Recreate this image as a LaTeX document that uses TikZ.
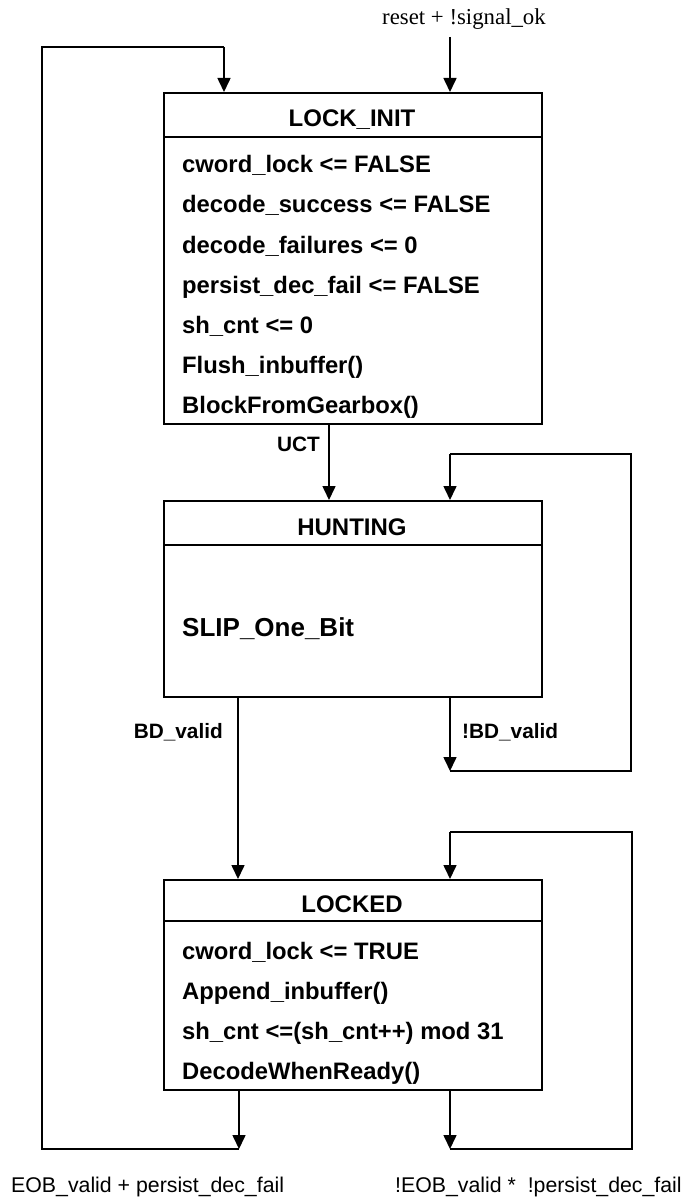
\documentclass[tikz,border=0pt]{standalone}
\usepackage{fontspec}
\setmainfont{Liberation Sans}
\newfontfamily\serifface{Liberation Serif}
\usetikzlibrary{arrows.meta}
\begin{document}
\begin{tikzpicture}[x=1pt,y=-1pt,
  statebox/.style={draw, line width=1.8pt, inner sep=0pt, anchor=north west, minimum width=378pt},
  divline/.style={line width=1.8pt},
  titletext/.style={inner sep=0pt, anchor=base, font=\bfseries\fontsize{24}{24}\selectfont},
  rowtext/.style={inner sep=0pt, anchor=base west, font=\bfseries\fontsize{23.8}{24}\selectfont},
  bigrow/.style={inner sep=0pt, anchor=base west, font=\bfseries\fontsize{26}{26}\selectfont},
  lbl/.style={inner sep=0pt, font=\bfseries\fontsize{20.8}{21}\selectfont},
  condlbl/.style={inner sep=0pt, anchor=base west, font=\fontsize{21.3}{22}\selectfont},
  conn/.style={line width=1.6pt},
  arr/.style={conn, -{Triangle[width=13pt,length=14pt]}}]
\useasboundingbox (0,0) rectangle (687,1198);

% ---- LOCK_INIT ----
\node[statebox, minimum height=331pt] (lockinit) at (163,92) {};
\draw[divline] (163,137) -- (541,137);
\node[titletext] (lockinitT) at (352,126.7) {LOCK\_INIT};
\node[rowtext] (li1) at (182,173) {cword\_lock <= FALSE};
\node[rowtext] (li2) at (182,213) {decode\_success <= FALSE};
\node[rowtext] (li3) at (182,253) {decode\_failures <= 0};
\node[rowtext] (li4) at (182,293) {persist\_dec\_fail <= FALSE};
\node[rowtext] (li5) at (182,333) {sh\_cnt <= 0};
\node[rowtext] (li6) at (182,373) {Flush\_inbuffer()};
\node[rowtext] (li7) at (182,413) {BlockFromGearbox()};

% ---- HUNTING ----
\node[statebox, minimum height=196pt] (hunting) at (163,500) {};
\draw[divline] (163,545) -- (541,545);
\node[titletext] (huntingT) at (352,535.7) {HUNTING};
\node[bigrow] (hu1) at (182,636.7) {SLIP\_One\_Bit};

% ---- LOCKED ----
\node[statebox, minimum height=210pt] (locked) at (163,879) {};
\draw[divline] (163,921) -- (541,921);
\node[titletext] (lockedT) at (352,912.7) {LOCKED};
\node[rowtext] (lo1) at (182,959) {cword\_lock <= TRUE};
\node[rowtext] (lo2) at (182,999) {Append\_inbuffer()};
\node[rowtext] (lo3) at (182,1039) {sh\_cnt <=(sh\_cnt++) mod 31};
\node[rowtext] (lo4) at (182,1079) {DecodeWhenReady()};

% ---- reset entry ----
\node[inner sep=0pt, anchor=base, font=\serifface\fontsize{22.8}{23}\selectfont] (resetlbl) at (464,24.5) {reset + !signal\_ok};
\coordinate (rs) at (450,37);
\draw[arr] (rs) -- (rs |- lockinit.north);

% ---- UCT ----
\coordinate (uctA) at (329,0);
\draw[arr] (uctA |- lockinit.south) -- (uctA |- hunting.north);
\node[lbl, anchor=base east] (uctL) at (320,451) {UCT};

% ---- HUNTING self loop ----
\coordinate (hs) at (450,0);
\coordinate (hc1) at (450,771);
\coordinate (hc2) at (631,771);
\coordinate (hc3) at (631,454);
\coordinate (hc4) at (450,454);
\draw[arr] (hs |- hunting.south) -- (hc1);
\draw[conn] (hc1) -- (hc2) -- (hc3) -- (hc4);
\draw[arr] (hc4) -- (hc4 |- hunting.north);
\node[lbl, anchor=base west] (nbdL) at (462,738) {!BD\_valid};

% ---- BD_valid ----
\coordinate (bd) at (238,0);
\draw[arr] (bd |- hunting.south) -- (bd |- locked.north);
\node[lbl, anchor=base east] (bdL) at (223,738) {BD\_valid};

% ---- LOCKED -> LOCK_INIT loop ----
\coordinate (ls) at (239,0);
\coordinate (lc1) at (239,1149);
\coordinate (lc2) at (42,1149);
\coordinate (lc3) at (42,47);
\coordinate (lc4) at (224,47);
\draw[arr] (ls |- locked.south) -- (lc1);
\draw[conn] (lc1) -- (lc2) -- (lc3) -- (lc4);
\draw[arr] (lc4) -- (lc4 |- lockinit.north);

% ---- LOCKED self loop ----
\coordinate (ks) at (450,0);
\coordinate (kc1) at (450,1149);
\coordinate (kc2) at (632,1149);
\coordinate (kc3) at (632,832);
\coordinate (kc4) at (450,832);
\draw[arr] (ks |- locked.south) -- (kc1);
\draw[conn] (kc1) -- (kc2) -- (kc3) -- (kc4);
\draw[arr] (kc4) -- (kc4 |- locked.north);

% ---- bottom condition labels ----
\node[condlbl] (eobL) at (11,1192) {EOB\_valid + persist\_dec\_fail};
\node[condlbl] (neobL) at (395,1192) {!EOB\_valid *\ \ !persist\_dec\_fail};
\end{tikzpicture}
\end{document}
